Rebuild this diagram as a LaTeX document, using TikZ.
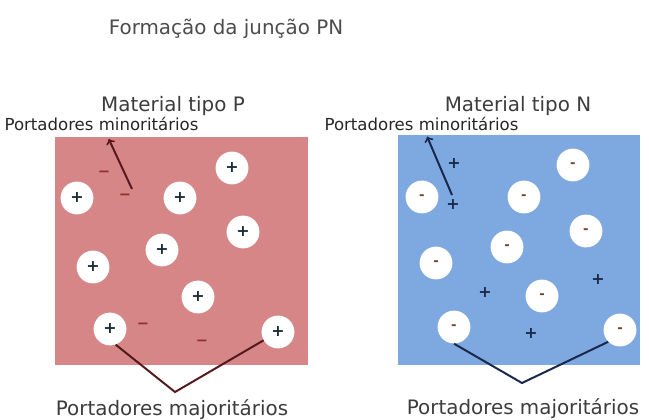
\documentclass[tikz,border=0pt]{standalone}
\usepackage{fontspec}
\setmainfont{DejaVu Sans}
\definecolor{pside}{RGB}{214,134,134}
\definecolor{nside}{RGB}{126,168,224}
\definecolor{pline}{RGB}{85,25,30}
\definecolor{nline}{RGB}{25,40,75}
\definecolor{titlegray}{RGB}{60,60,60}
\begin{document}
\begin{tikzpicture}[x=0.0265cm,y=-0.0265cm,
  hole/.style={circle,fill=white,minimum size=0.87cm,inner sep=0pt,
    font=\fontsize{12}{12}\selectfont\bfseries,text={rgb,255:red,25;green,45;blue,50}},
  electron/.style={circle,fill=white,minimum size=0.87cm,inner sep=0pt,
    font=\fontsize{10}{10}\selectfont\bfseries,text={rgb,255:red,110;green,70;blue,45}},
  freeminus/.style={inner sep=0pt,font=\fontsize{11}{11}\selectfont\bfseries,text={rgb,255:red,145;green,45;blue,45}},
  freeplus/.style={inner sep=0pt,font=\fontsize{12}{12}\selectfont\bfseries,text=nline},
  label/.style={anchor=base,inner sep=1pt,font=\fontsize{15}{15}\selectfont,text=titlegray},
  minor/.style={anchor=base west,inner sep=1pt,font=\fontsize{12.5}{12.5}\selectfont,text=black!85}]
\useasboundingbox (0,0) rectangle (649,419);

\node[label, text=black!70] (title) at (226,34) {Formação da junção PN};

\fill[pside] (55,137) rectangle (308,365);
\fill[nside] (398,135) rectangle (640,365);

\node[label] (ptitle) at (173,111) {Material tipo P};
\node[label] (ntitle) at (518,111) {Material tipo N};
\node[minor] (pminor) at (3,130) {Portadores minoritários};
\node[minor] (nminor) at (323,130) {Portadores minoritários};
\node[label] (pmajor) at (172,415) {Portadores majoritários};
\node[label] (nmajor) at (523,414) {Portadores majoritários};

\node[hole] (p1) at (232,168) {+};
\node[hole] (p2) at (77,198) {+};
\node[hole] (p3) at (180,198) {+};
\node[hole] (p4) at (243,232) {+};
\node[hole] (p5) at (162,250) {+};
\node[hole] (p6) at (93,267) {+};
\node[hole] (p7) at (198,297) {+};
\node[hole] (p8) at (110,329) {+};
\node[hole] (p9) at (278,332) {+};

\node[freeminus] (pe1) at (104,174) {−};
\node[freeminus] (pe2) at (125,197) {−};
\node[freeminus] (pe3) at (143,326) {−};
\node[freeminus] (pe4) at (202,343) {−};

\node[electron] (n1) at (573,165) {-};
\node[electron] (n2) at (422,197) {-};
\node[electron] (n3) at (524,197) {-};
\node[electron] (n4) at (586,231) {-};
\node[electron] (n5) at (507,247) {-};
\node[electron] (n6) at (436,263) {-};
\node[electron] (n7) at (542,296) {-};
\node[electron] (n8) at (454,327) {-};
\node[electron] (n9) at (620,330) {-};

\node[freeplus] (nh1) at (454,164) {+};
\node[freeplus] (nh2) at (453,205) {+};
\node[freeplus] (nh3) at (485,293) {+};
\node[freeplus] (nh4) at (598,280) {+};
\node[freeplus] (nh5) at (531,334) {+};

\coordinate (ptail) at (132,189);
\coordinate (ntail) at (452,195);
\draw[->, pline, line width=1.5pt, shorten >=6pt] (ptail) -- (pminor);
\draw[->, nline, line width=1.5pt, shorten >=4pt] (ntail) -- (nminor);

\coordinate (pvert) at (175,392);
\coordinate (nvert) at (522,383);
\draw[pline, line width=1.5pt] (p8.-70) -- (pvert) -- (p9.-150);
\draw[nline, line width=1.5pt] (n8.-90) -- (nvert) -- (n9.-135);
\end{tikzpicture}
\end{document}
